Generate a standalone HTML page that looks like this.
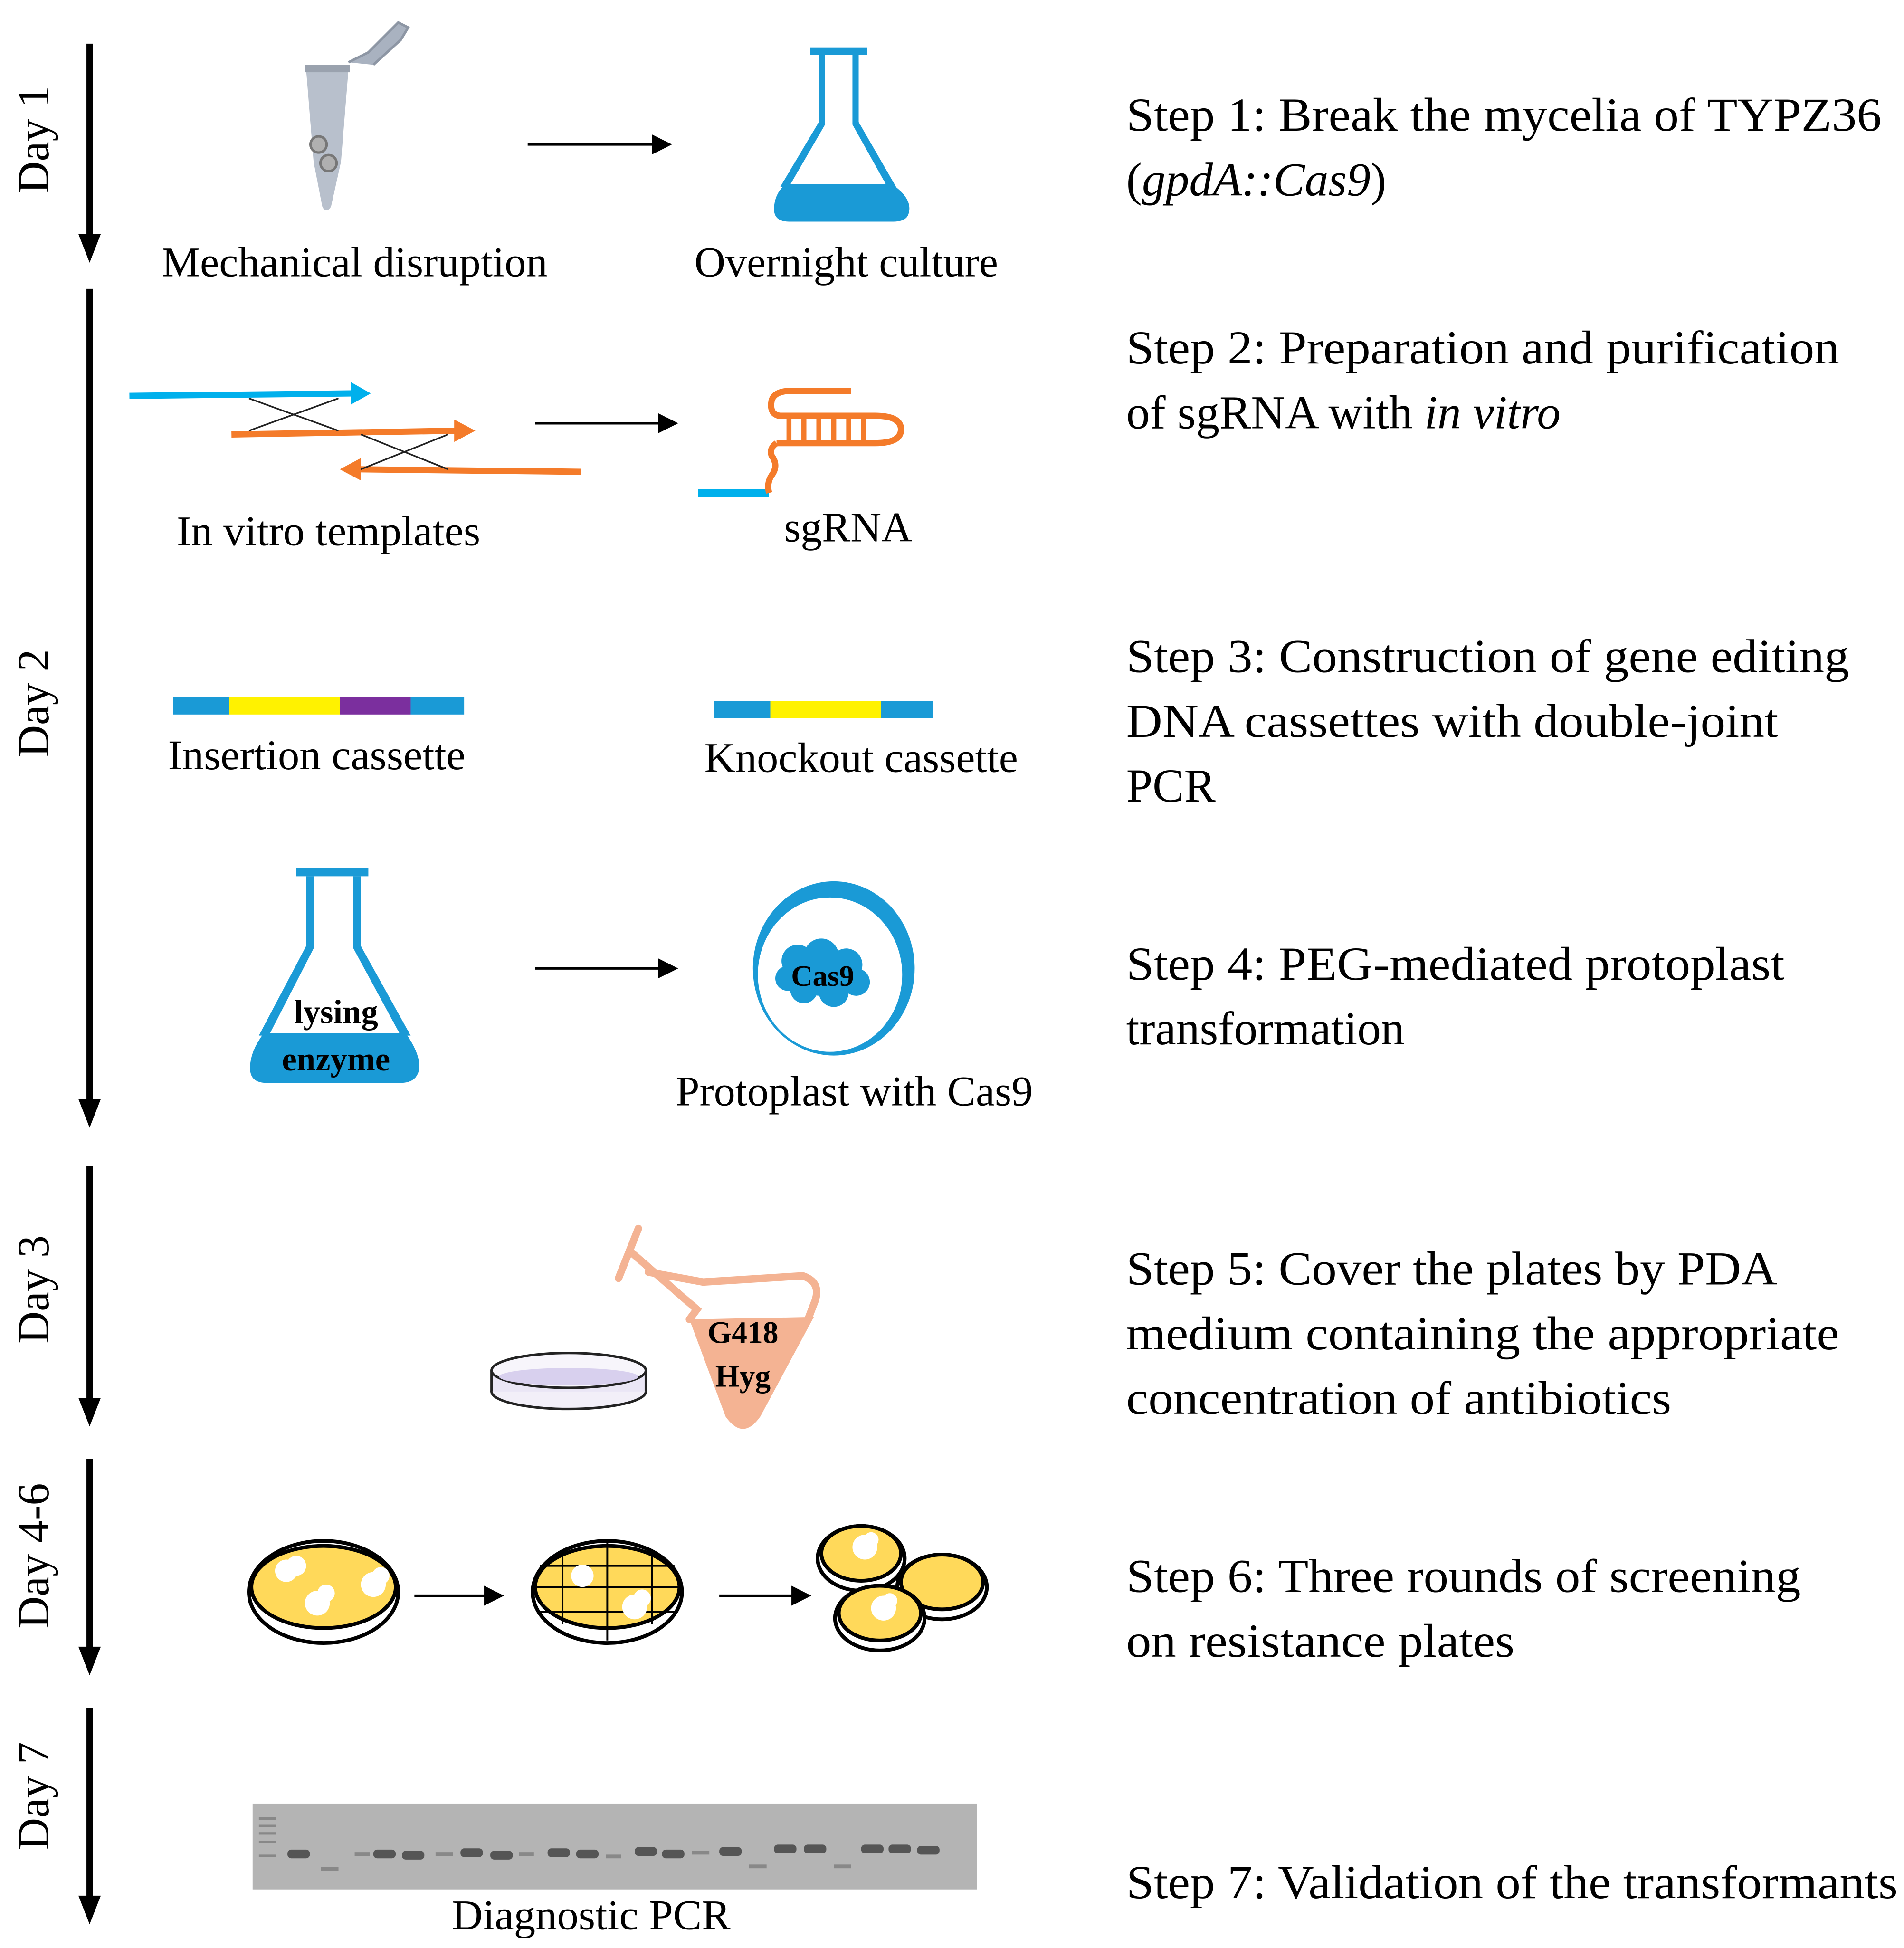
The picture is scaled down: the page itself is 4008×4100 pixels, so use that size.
<!DOCTYPE html>
<html><head><meta charset="utf-8"><style>html,body{margin:0;padding:0;background:#fff}svg{display:block}svg text{font-family:"Liberation Serif",serif}</style></head>
<body>
<svg xmlns="http://www.w3.org/2000/svg" width="4008" height="4100" viewBox="0 0 1530 1565" font-family="'Liberation Serif', serif">
<rect width="1530" height="1565" fill="#fff"/>
<!-- Day arrows -->
<g fill="#000" stroke="#000">
<line x1="72" y1="35" x2="72" y2="192" stroke-width="5"/><polygon points="63,188 81,188 72,211" stroke="none"/>
<line x1="72" y1="232" x2="72" y2="887" stroke-width="5"/><polygon points="63,883 81,883 72,906" stroke="none"/>
<line x1="72" y1="937" x2="72" y2="1127" stroke-width="5"/><polygon points="63,1123 81,1123 72,1146" stroke="none"/>
<line x1="72" y1="1172" x2="72" y2="1327" stroke-width="5"/><polygon points="63,1323 81,1323 72,1346" stroke="none"/>
<line x1="72" y1="1372" x2="72" y2="1527" stroke-width="5"/><polygon points="63,1523 81,1523 72,1546" stroke="none"/>
</g>
<g font-size="36" text-anchor="middle" fill="#000">
<text transform="translate(39,112) rotate(-90)">Day 1</text>
<text transform="translate(39,565) rotate(-90)">Day 2</text>
<text transform="translate(39,1036) rotate(-90)">Day 3</text>
<text transform="translate(39,1250) rotate(-90)">Day 4-6</text>
<text transform="translate(39,1443) rotate(-90)">Day 7</text>
</g>
<!-- horizontal arrows -->
<g stroke="#000" stroke-width="2">
<line x1="424" y1="116" x2="528" y2="116"/><line x1="430" y1="340" x2="533" y2="340"/>
<line x1="430" y1="778" x2="533" y2="778"/><line x1="333" y1="1282" x2="393" y2="1282"/>
<line x1="578" y1="1282" x2="640" y2="1282"/>
</g>
<g fill="#000">
<polygon points="524,108 524,124 540,116"/><polygon points="529,332 529,348 545,340"/>
<polygon points="529,770 529,786 545,778"/><polygon points="389,1274 389,1290 405,1282"/>
<polygon points="636,1274 636,1290 652,1282"/>
</g>
<!-- tube -->
<path d="M300,52 L322,32 L328,22 L320,18 L296,42 L280,50" fill="#a9b2c0" stroke="#8d96a4" stroke-width="2"/>
<path d="M246,56 L280,56 L274,130 L266,166 Q262,172 259,166 L252,130 Z" fill="#b8c0cc"/>
<rect x="245" y="52" width="36" height="6" fill="#9aa2ae"/>
<circle cx="256" cy="116" r="6.5" fill="#b0b0b0" stroke="#777" stroke-width="2"/>
<circle cx="264" cy="131" r="6.5" fill="#b0b0b0" stroke="#777" stroke-width="2"/>
<!-- flask 1 -->
<g fill="#1a9ad6">
<rect x="651" y="38" width="46" height="6"/>
<path d="M658,44 h5 v56 L634,150 h-7 L658,98 Z"/><path d="M685,44 h5 v54 L720,150 h-7 L685,100 Z"/>
<path d="M631,148 H717 Q734,160 730,172 Q728,178 718,178 H634 Q622,178 622,168 Q622,156 631,148 Z"/>
</g>
<g font-size="34" fill="#000">
<text x="130" y="222" textLength="310" lengthAdjust="spacingAndGlyphs">Mechanical disruption</text>
<text x="558" y="222" textLength="244" lengthAdjust="spacingAndGlyphs">Overnight culture</text>
<text x="142" y="438" textLength="244" lengthAdjust="spacingAndGlyphs">In vitro templates</text>
<text x="630" y="435" textLength="103" lengthAdjust="spacingAndGlyphs">sgRNA</text>
<text x="135" y="618" textLength="239" lengthAdjust="spacingAndGlyphs">Insertion cassette</text>
<text x="566" y="620" textLength="252" lengthAdjust="spacingAndGlyphs">Knockout cassette</text>
<text x="543" y="888" textLength="287" lengthAdjust="spacingAndGlyphs">Protoplast with Cas9</text>
<text x="363" y="1550" textLength="224" lengthAdjust="spacingAndGlyphs">Diagnostic PCR</text>
</g>
<!-- templates -->
<line x1="104" y1="318" x2="285" y2="316" stroke="#00b0ec" stroke-width="5"/>
<polygon points="282,307 298,316 282,325" fill="#00b0ec"/>
<line x1="186" y1="349" x2="368" y2="346" stroke="#f47b2a" stroke-width="5"/>
<polygon points="365,337 382,346 365,355" fill="#f47b2a"/>
<line x1="467" y1="379" x2="287" y2="377" stroke="#f47b2a" stroke-width="5"/>
<polygon points="290,368 273,377 290,386" fill="#f47b2a"/>
<g stroke="#222" stroke-width="1.3">
<line x1="200" y1="346" x2="272" y2="320"/><line x1="200" y1="320" x2="272" y2="346"/>
<line x1="290" y1="377" x2="360" y2="349"/><line x1="290" y1="349" x2="360" y2="377"/>
</g>
<!-- sgRNA -->
<line x1="561" y1="396" x2="618" y2="396" stroke="#00b0ec" stroke-width="6"/>
<g fill="none" stroke="#f47b2a" stroke-width="5">
<path d="M618,396 Q616,388 620,382 Q626,374 620,366 Q618,360 624,356"/>
<path d="M624,356 H703 Q724,356 724,345 Q724,334 703,334 H624"/>
<path d="M628,334 Q618,334 620,322 Q622,314 636,314 H684"/>
</g>
<g stroke="#f47b2a" stroke-width="4">
<line x1="634" y1="336" x2="634" y2="354"/><line x1="646" y1="336" x2="646" y2="354"/><line x1="658" y1="336" x2="658" y2="354"/>
<line x1="670" y1="336" x2="670" y2="354"/><line x1="682" y1="336" x2="682" y2="354"/><line x1="694" y1="336" x2="694" y2="354"/>
</g>
<!-- cassettes -->
<rect x="139" y="560" width="45" height="14" fill="#1a9ad6"/><rect x="184" y="560" width="89" height="14" fill="#fff200"/>
<rect x="273" y="560" width="57" height="14" fill="#7b2f9e"/><rect x="330" y="560" width="43" height="14" fill="#1a9ad6"/>
<rect x="574" y="563" width="45" height="14" fill="#1a9ad6"/><rect x="619" y="563" width="89" height="14" fill="#fff200"/>
<rect x="708" y="563" width="42" height="14" fill="#1a9ad6"/>
<!-- lysing flask -->
<g fill="#1a9ad6">
<rect x="238" y="697" width="58" height="7"/>
<path d="M246,704 h6 v58 L216,832 h-8 L246,760 Z"/><path d="M284,704 h6 v56 L330,832 h-8 L284,762 Z"/>
<path d="M212,830 H326 Q340,850 336,862 Q333,870 322,870 H214 Q202,870 201,860 Q200,846 212,830 Z"/>
</g>
<g font-size="27" font-weight="bold" text-anchor="middle" fill="#000">
<text x="270" y="822">lysing</text><text x="270" y="860">enzyme</text>
</g>
<!-- protoplast -->
<ellipse cx="670" cy="778" rx="65" ry="70" fill="#1a9ad6"/>
<ellipse cx="667" cy="783" rx="58" ry="62" fill="#fff"/>
<g fill="#1a9ad6">
<circle cx="641" cy="772" r="13"/><circle cx="660" cy="768" r="14"/><circle cx="680" cy="775" r="13"/><circle cx="688" cy="789" r="11"/>
<circle cx="670" cy="797" r="12"/><circle cx="646" cy="795" r="11"/><circle cx="633" cy="786" r="10"/><ellipse cx="660" cy="784" rx="28" ry="16"/>
</g>
<text x="661" y="792" font-size="24" font-weight="bold" text-anchor="middle" fill="#000">Cas9</text>
<!-- step5 -->
<ellipse cx="457" cy="1118" rx="62" ry="14" fill="#f2eff8" stroke="#222" stroke-width="2"/>
<rect x="395" y="1101" width="124" height="17" fill="#eae6f5"/>
<line x1="395" y1="1101" x2="395" y2="1118" stroke="#222" stroke-width="2"/><line x1="519" y1="1101" x2="519" y2="1118" stroke="#222" stroke-width="2"/>
<ellipse cx="457" cy="1101" rx="62" ry="14" fill="#f7f5fb" stroke="#222" stroke-width="2"/>
<ellipse cx="457" cy="1106" rx="56" ry="7" fill="#d8d0ee"/>
<path d="M554,1060 L654,1058 L611,1138 Q597,1158 583,1138 Z" fill="#f4b393"/>
<g fill="none" stroke="#f4b393" stroke-width="6" stroke-linecap="round">
<path d="M513,987 L497,1027"/><path d="M506,1005 L560,1052 L554,1060"/><path d="M521,1022 L565,1030 L645,1025 Q660,1030 655,1045 L650,1058"/>
</g>
<g font-size="25" font-weight="bold" text-anchor="middle" fill="#000">
<text x="597" y="1079">G418</text><text x="597" y="1114">Hyg</text>
</g>
<!-- plates -->
<g stroke="#000" stroke-width="3">
<ellipse cx="260" cy="1279" rx="60" ry="41" fill="#fff"/>
<ellipse cx="260" cy="1275" rx="58" ry="33" fill="#ffd95a"/>
<ellipse cx="488" cy="1279" rx="60" ry="41" fill="#fff"/>
<ellipse cx="488" cy="1275" rx="58" ry="33" fill="#ffd95a"/>
<ellipse cx="757" cy="1275" rx="36" ry="26" fill="#fff"/><ellipse cx="757" cy="1271" rx="33" ry="22" fill="#ffd95a"/>
<ellipse cx="692" cy="1252" rx="35" ry="26" fill="#fff"/><ellipse cx="692" cy="1248" rx="32" ry="22" fill="#ffd95a"/>
<ellipse cx="707" cy="1300" rx="36" ry="26" fill="#fff"/><ellipse cx="707" cy="1296" rx="33" ry="22" fill="#ffd95a"/>
</g>
<g stroke="#000" stroke-width="1.5">
<line x1="430" y1="1275" x2="546" y2="1275"/><line x1="434" y1="1258" x2="542" y2="1258"/><line x1="434" y1="1295" x2="542" y2="1295"/>
<line x1="488" y1="1239" x2="488" y2="1318"/><line x1="452" y1="1250" x2="452" y2="1305"/><line x1="524" y1="1250" x2="524" y2="1305"/>
</g>
<g fill="#fff">
<circle cx="230" cy="1262" r="9"/><circle cx="238" cy="1258" r="8"/><circle cx="255" cy="1288" r="10"/><circle cx="262" cy="1280" r="7"/>
<circle cx="300" cy="1273" r="10"/><circle cx="306" cy="1266" r="7"/>
<circle cx="468" cy="1266" r="9"/><circle cx="510" cy="1291" r="10"/><circle cx="516" cy="1284" r="7"/>
<circle cx="695" cy="1243" r="10"/><circle cx="700" cy="1237" r="6"/><circle cx="710" cy="1292" r="10"/><circle cx="715" cy="1286" r="6"/>
</g>
<!-- gel -->
<rect x="203" y="1449" width="582" height="69" fill="#b4b4b4"/>
<g fill="#555">
<rect x="231" y="1486" width="18" height="7" rx="3"/><rect x="300" y="1486" width="18" height="7" rx="3"/><rect x="323" y="1487" width="18" height="7" rx="3"/>
<rect x="370" y="1485" width="18" height="7" rx="3"/><rect x="394" y="1487" width="18" height="7" rx="3"/><rect x="440" y="1485" width="18" height="7" rx="3"/>
<rect x="463" y="1486" width="18" height="7" rx="3"/><rect x="510" y="1484" width="18" height="7" rx="3"/><rect x="532" y="1486" width="18" height="7" rx="3"/>
<rect x="578" y="1484" width="18" height="7" rx="3"/><rect x="622" y="1482" width="18" height="7" rx="3"/><rect x="646" y="1482" width="18" height="7" rx="3"/>
<rect x="692" y="1482" width="18" height="7" rx="3"/><rect x="714" y="1482" width="18" height="7" rx="3"/><rect x="737" y="1483" width="18" height="7" rx="3"/>
</g>
<g fill="#888">
<rect x="258" y="1500" width="14" height="3"/><rect x="285" y="1488" width="12" height="3"/><rect x="350" y="1488" width="14" height="3"/>
<rect x="417" y="1488" width="12" height="3"/><rect x="487" y="1490" width="12" height="3"/><rect x="556" y="1487" width="14" height="3"/>
<rect x="602" y="1498" width="14" height="3"/><rect x="670" y="1498" width="14" height="3"/>
<rect x="208" y="1460" width="14" height="2"/><rect x="208" y="1466" width="14" height="2"/><rect x="208" y="1472" width="14" height="2"/><rect x="208" y="1479" width="14" height="2"/><rect x="208" y="1490" width="14" height="2"/>
</g>
<!-- steps -->
<g font-size="38" fill="#000">
<text x="905" y="105" textLength="607" lengthAdjust="spacingAndGlyphs">Step 1: Break the mycelia of TYPZ36</text>
<text x="905" y="157">(<tspan font-style="italic">gpdA::Cas9</tspan>)</text>
<text x="905" y="292" textLength="573" lengthAdjust="spacingAndGlyphs">Step 2: Preparation and purification</text>
<text x="905" y="344">of sgRNA with <tspan font-style="italic">in vitro</tspan></text>
<text x="905" y="540" textLength="581" lengthAdjust="spacingAndGlyphs">Step 3: Construction of gene editing</text>
<text x="905" y="592" textLength="524" lengthAdjust="spacingAndGlyphs">DNA cassettes with double-joint</text>
<text x="905" y="644">PCR</text>
<text x="905" y="787" textLength="529" lengthAdjust="spacingAndGlyphs">Step 4: PEG-mediated protoplast</text>
<text x="905" y="839">transformation</text>
<text x="905" y="1032" textLength="523" lengthAdjust="spacingAndGlyphs">Step 5: Cover the plates by PDA</text>
<text x="905" y="1084" textLength="573" lengthAdjust="spacingAndGlyphs">medium containing  the appropriate</text>
<text x="905" y="1136" textLength="438" lengthAdjust="spacingAndGlyphs">concentration of antibiotics</text>
<text x="905" y="1279" textLength="542" lengthAdjust="spacingAndGlyphs">Step 6: Three rounds of screening</text>
<text x="905" y="1331" textLength="312" lengthAdjust="spacingAndGlyphs">on resistance plates</text>
<text x="905" y="1525" textLength="620" lengthAdjust="spacingAndGlyphs">Step 7: Validation of the transformants</text>
</g>
</svg>
</body></html>
